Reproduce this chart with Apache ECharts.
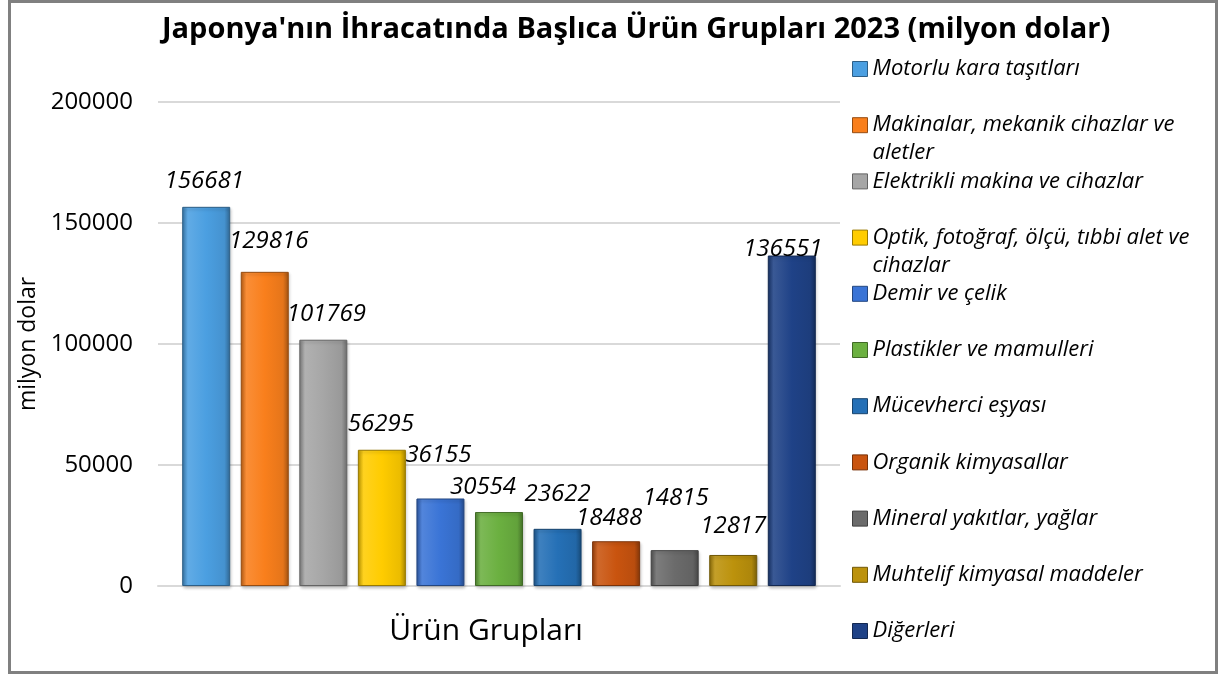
<!DOCTYPE html>
<html>
<head>
<meta charset="utf-8">
<script src="https://cdn.jsdelivr.net/npm/echarts@6/dist/echarts.min.js"></script>
<style>
  html, body { margin: 0; padding: 0; background: #fff; }
  #chart { width: 1219px; height: 675px; }
</style>
</head>
<body>
<div id="chart"></div>
<script>
// data
var titleText = "Japonya'nın İhracatında Başlıca Ürün Grupları 2023 (milyon dolar)";
var categories = ['Ürün Grupları'];
var groups = [
    'Motorlu kara taşıtları',
    'Makinalar, mekanik cihazlar ve aletler',
    'Elektrikli makina ve cihazlar',
    'Optik, fotoğraf, ölçü, tıbbi alet ve cihazlar',
    'Demir ve çelik',
    'Plastikler ve mamulleri',
    'Mücevherci eşyası',
    'Organik kimyasallar',
    'Mineral yakıtlar, yağlar',
    'Muhtelif kimyasal maddeler',
    'Diğerleri'
];
var values = [156681, 129816, 101769, 56295, 36155, 30554, 23622, 18488, 14815, 12817, 136551];
var yTicks = [0, 50000, 100000, 150000, 200000];

// look
var colors = ['#4b9fe1', '#f97f1c', '#a6a6a6', '#ffcc00', '#3a74d6', '#6bb040',
              '#2570b6', '#c9540f', '#6b6b6b', '#bc920c', '#1f4287'];
// label nudges (dx, dy) so the value labels sit like in the original
var labelNudge = [[-2, -9], [4, -14], [3, -9], [-1, -9], [-2, -26], [-16, -8],
                  [0, -18], [-7, -6], [1, -35], [0, -12], [-9, 11]];

var FONT = 'Open Sans, Lato, sans-serif';
var LEGEND_SIZE = 22;
var LEGEND_LINE = 28;
var LEGEND_WIDTH = 345;

function shade(hex, amt) {
    var n = parseInt(hex.slice(1), 16);
    var r = (n >> 16) & 255, g = (n >> 8) & 255, b = n & 255;
    var f = function (c) {
        c = amt < 0 ? c * (1 + amt) : c + (255 - c) * amt;
        return Math.round(Math.max(0, Math.min(255, c)));
    };
    return 'rgb(' + f(r) + ',' + f(g) + ',' + f(b) + ')';
}

function bevel(hex) {
    return new echarts.graphic.LinearGradient(0, 0, 1, 0, [
        { offset: 0, color: shade(hex, -0.25) },
        { offset: 0.12, color: shade(hex, 0.12) },
        { offset: 0.5, color: hex },
        { offset: 0.88, color: shade(hex, -0.08) },
        { offset: 1, color: shade(hex, -0.35) }
    ]);
}

// wrap a legend name the way the original does (word wrap inside LEGEND_WIDTH)
var measure = document.createElement('canvas').getContext('2d');
measure.font = 'italic ' + LEGEND_SIZE + 'px ' + FONT;
function wrapName(name) {
    var lines = [], cur = '';
    name.split(' ').forEach(function (w) {
        var next = cur ? cur + ' ' + w : w;
        if (cur && measure.measureText(next).width > LEGEND_WIDTH) {
            lines.push(cur);
            cur = w;
        } else {
            cur = next;
        }
    });
    lines.push(cur);
    return lines;
}

var series = groups.map(function (name, i) {
    return {
        name: name,
        type: 'bar',
        barWidth: 48,
        barGap: '22%',
        data: [values[i]],
        itemStyle: {
            color: bevel(colors[i]),
            borderColor: shade(colors[i], -0.4),
            borderWidth: 1,
            shadowColor: 'rgba(0,0,0,0.2)',
            shadowBlur: 3,
            shadowOffsetX: 1,
            shadowOffsetY: 2
        },
        label: {
            show: true,
            position: 'top',
            offset: labelNudge[i],
            fontFamily: FONT,
            fontStyle: 'italic',
            fontSize: 24,
            color: '#000'
        }
    };
});

// one legend per item so the rows keep the even spacing of the original;
// wrapped names get an empty first line so the icon sits on the first text line
var legends = groups.map(function (name, i) {
    var center = 69 + i * 56.2;
    var lines = wrapName(name);
    var twoLines = lines.length > 1;
    return {
        data: [{ name: name, itemStyle: { color: colors[i], borderColor: shade(colors[i], -0.4), borderWidth: 1 } }],
        left: 852,
        top: twoLines ? center - LEGEND_LINE * 1.5 : center - LEGEND_LINE / 2,
        padding: 0,
        itemWidth: 15,
        itemHeight: 15,
        itemGap: 0,
        icon: 'rect',
        selectedMode: false,
        formatter: function () {
            return twoLines ? '\n' + lines.join('\n') : lines[0];
        },
        textStyle: {
            fontFamily: FONT,
            fontStyle: 'italic',
            fontSize: LEGEND_SIZE,
            lineHeight: LEGEND_LINE,
            color: '#000'
        }
    };
});

var chart = echarts.init(document.getElementById('chart'));
chart.setOption({
    animation: false,
    backgroundColor: '#fff',
    title: {
        text: titleText,
        left: 162,
        top: 15,
        padding: 0,
        textStyle: { fontFamily: FONT, fontWeight: 'bold', fontSize: 29, color: '#000' }
    },
    legend: legends,
    grid: { left: 158, right: 379, top: 102, bottom: 89 },
    xAxis: {
        type: 'category',
        data: categories,
        axisLine: { lineStyle: { color: '#d9d9d9', width: 2 } },
        axisTick: { show: false },
        axisLabel: {
            margin: 30, fontFamily: FONT, fontSize: 30, color: '#000',
            padding: [0, 26, 0, 0]
        }
    },
    yAxis: {
        type: 'value',
        min: yTicks[0],
        max: yTicks[yTicks.length - 1],
        interval: yTicks[1] - yTicks[0],
        name: 'milyon dolar',
        nameLocation: 'middle',
        nameGap: 110,
        nameTextStyle: { fontFamily: FONT, fontSize: 23, color: '#000' },
        axisLine: { show: false },
        axisTick: { show: false },
        axisLabel: {
            margin: 25, fontFamily: FONT, fontSize: 24, color: '#000',
            formatter: function (v) { return String(v); }
        },
        splitLine: { lineStyle: { color: '#d9d9d9', width: 2 } }
    },
    series: series,
    graphic: [{
        type: 'rect',
        silent: true,
        shape: { x: 9.5, y: 1.5, width: 1207, height: 671 },
        style: { fill: 'none', stroke: '#808080', lineWidth: 3 }
    }]
});
window.addEventListener('resize', function () { chart.resize(); });
</script>
</body>
</html>
